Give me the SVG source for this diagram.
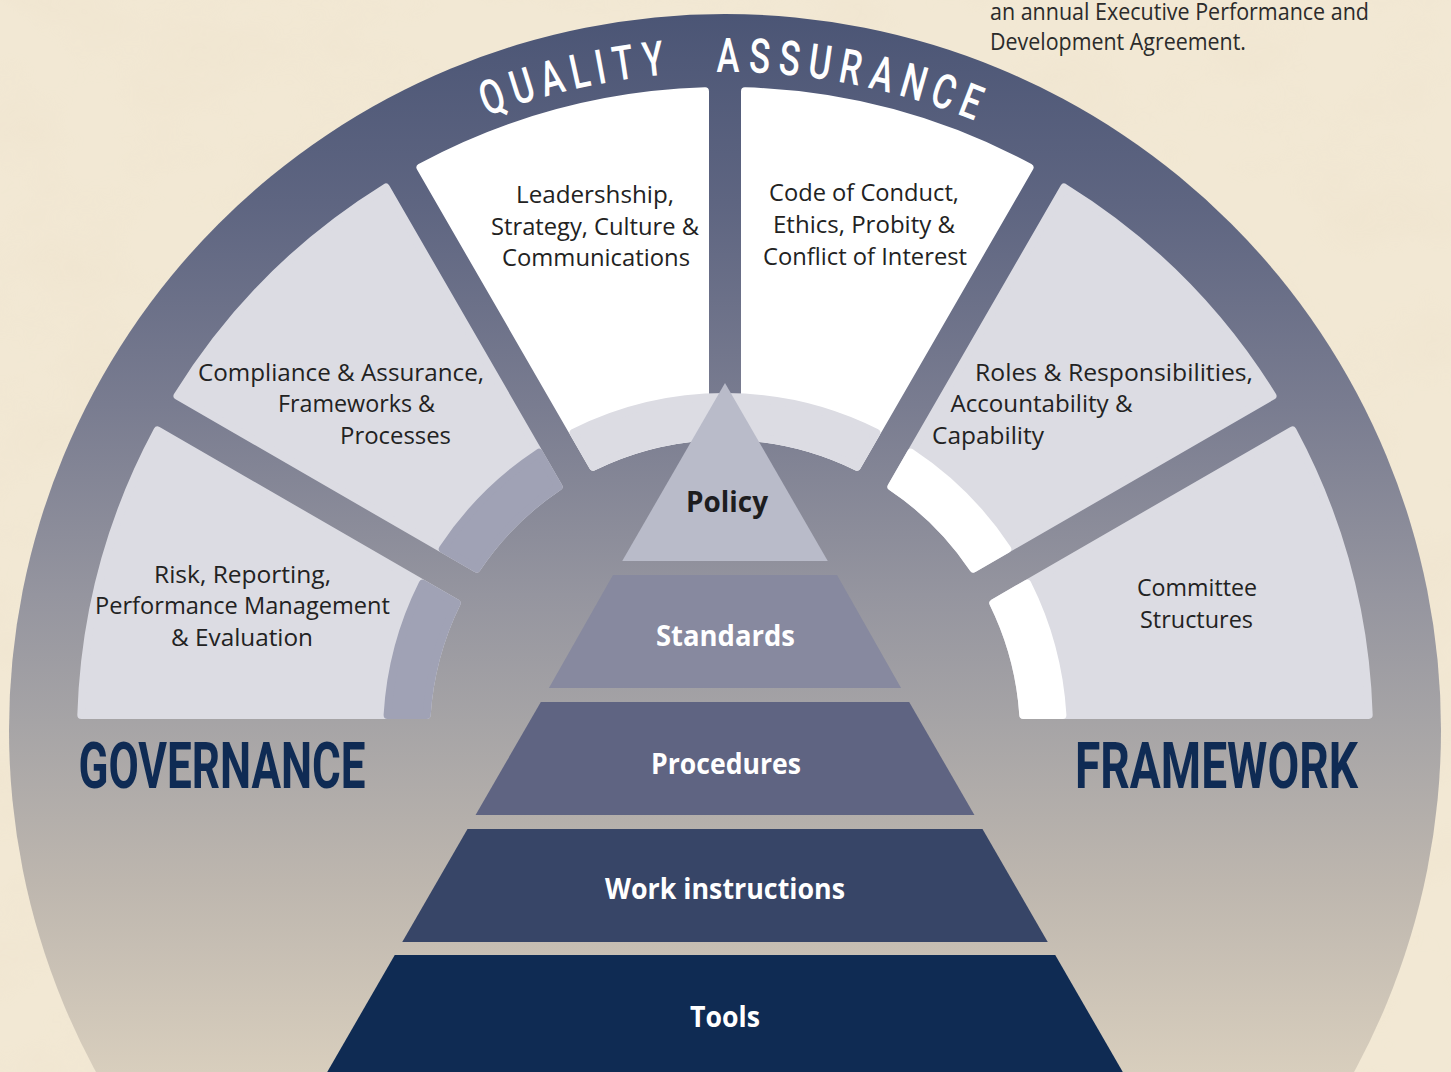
<svg xmlns="http://www.w3.org/2000/svg" width="1451" height="1072" viewBox="0 0 1451 1072">
  <defs>
    <!-- vertical shading of the dial: slate blue at the top fading to warm grey -->
    <linearGradient id="dial" gradientUnits="userSpaceOnUse" x1="0" y1="12" x2="0" y2="1072">
      <stop offset="0" stop-color="#4b5575"/>
      <stop offset="0.18" stop-color="#5e6581"/>
      <stop offset="0.37" stop-color="#797c90"/>
      <stop offset="0.55" stop-color="#95959f"/>
      <stop offset="0.67" stop-color="#a6a4a6"/>
      <stop offset="0.82" stop-color="#bdb6ae"/>
      <stop offset="1" stop-color="#d8cebd"/>
    </linearGradient>
    <!-- one 30-degree sector, bisector along +x, inset 4px for the rounded stroke -->
    <path id="wedge" d="M 626.93,-147.28 A 644 644 0 0 1 626.93,147.28 L 293.34,57.90 A 299 299 0 0 0 293.34,-57.90 Z"/>
    <!-- inner band of one sector -->
    <path id="band" d="M 331.09,-68.01 A 338 338 0 0 1 331.09,68.01 L 293.34,57.90 A 299 299 0 0 0 293.34,-57.90 Z"/>
    <!-- inner band spanning the two top sectors -->
    <path id="band-wide" d="M 302.20,-151.38 A 338 338 0 0 1 302.20,151.38 L 268.36,131.84 A 299 299 0 0 0 268.36,-131.84 Z"/>
    <filter id="paper" x="0" y="0" width="100%" height="100%">
      <feTurbulence type="fractalNoise" baseFrequency="0.008 0.012" numOctaves="4" seed="7" result="n"/>
      <feColorMatrix in="n" type="matrix" values="0 0 0 0 0.82  0 0 0 0 0.72  0 0 0 0 0.55  0 0 0 1.3 -0.5"/>
    </filter>
  </defs>
  <style>
    .seg{stroke-width:8;stroke-linejoin:round}
    .pale{fill:#dcdce3;stroke:#dcdce3}
    .white{fill:#ffffff;stroke:#ffffff}
    .lilac{fill:#a0a2b5;stroke:#a0a2b5}
    .lbl{font-family:"Open Sans","Noto Sans","DejaVu Sans",sans-serif;font-size:23.5px;fill:#222222;lengthAdjust:spacingAndGlyphs}
    .lvl{font-family:"Open Sans","Noto Sans","DejaVu Sans",sans-serif;font-size:29px;font-weight:700;fill:#ffffff}
    .big{font-family:Roboto,"Liberation Sans",sans-serif;font-size:64px;font-weight:700;fill:#0f2b54}
    .qa{font-family:Roboto,"Liberation Sans",sans-serif;font-size:48px;font-weight:500;fill:#ffffff;text-anchor:middle}
  </style>

  <!-- parchment background -->
  <rect x="0" y="0" width="1451" height="1072" fill="#f2e8d4"/>
  <rect x="0" y="0" width="1451" height="1072" filter="url(#paper)" opacity="0.3"/>

  <!-- dial disc (its colour also shows through the spokes) -->
  <g id="dial-disc">
    <circle cx="725" cy="730" r="716" fill="url(#dial)"/>
  </g>

  <!-- ring lettering -->
  <g id="ring-title">
    <text class="qa" transform="rotate(-20.04 725 735) translate(725 72) scale(0.72 1)">Q</text>
    <text class="qa" transform="rotate(-17.37 725 735) translate(725 72) scale(0.72 1)">U</text>
    <text class="qa" transform="rotate(-14.78 725 735) translate(725 72) scale(0.72 1)">A</text>
    <text class="qa" transform="rotate(-12.36 725 735) translate(725 72) scale(0.72 1)">L</text>
    <text class="qa" transform="rotate(-10.58 725 735) translate(725 72) scale(0.72 1)">I</text>
    <text class="qa" transform="rotate(-8.62 725 735) translate(725 72) scale(0.72 1)">T</text>
    <text class="qa" transform="rotate(-6.08 725 735) translate(725 72) scale(0.72 1)">Y</text>
    <text class="qa" transform="rotate(0.25 725 735) translate(725 72) scale(0.72 1)">A</text>
    <text class="qa" transform="rotate(2.93 725 735) translate(725 72) scale(0.72 1)">S</text>
    <text class="qa" transform="rotate(5.47 725 735) translate(725 72) scale(0.72 1)">S</text>
    <text class="qa" transform="rotate(8.06 725 735) translate(725 72) scale(0.72 1)">U</text>
    <text class="qa" transform="rotate(10.69 725 735) translate(725 72) scale(0.72 1)">R</text>
    <text class="qa" transform="rotate(13.41 725 735) translate(725 72) scale(0.72 1)">A</text>
    <text class="qa" transform="rotate(16.17 725 735) translate(725 72) scale(0.72 1)">N</text>
    <text class="qa" transform="rotate(18.80 725 735) translate(725 72) scale(0.72 1)">C</text>
    <text class="qa" transform="rotate(21.26 725 735) translate(725 72) scale(0.72 1)">E</text>
  </g>

  <!-- sectors -->
  <g id="sector-risk">
    <use href="#wedge" class="seg pale" transform="translate(725 735) rotate(-165)"/>
    <use href="#band" class="seg lilac" transform="translate(725 735) rotate(-165)"/>
    <text class="lbl" x="154" y="582.5" textLength="177" lengthAdjust="spacingAndGlyphs">Risk, Reporting,</text>
    <text class="lbl" x="95" y="614" textLength="295" lengthAdjust="spacingAndGlyphs">Performance Management</text>
    <text class="lbl" x="171" y="646" textLength="142" lengthAdjust="spacingAndGlyphs">&amp; Evaluation</text>
  </g>
  <g id="sector-compliance">
    <use href="#wedge" class="seg pale" transform="translate(725 735) rotate(-135)"/>
    <use href="#band" class="seg lilac" transform="translate(725 735) rotate(-135)"/>
    <text class="lbl" x="198" y="380.5" textLength="286" lengthAdjust="spacingAndGlyphs">Compliance &amp; Assurance,</text>
    <text class="lbl" x="278" y="412" textLength="157" lengthAdjust="spacingAndGlyphs">Frameworks &amp;</text>
    <text class="lbl" x="340" y="444" textLength="111" lengthAdjust="spacingAndGlyphs">Processes</text>
  </g>
  <g id="sector-leadership">
    <use href="#wedge" class="seg white" transform="translate(725 735) rotate(-105)"/>
    <text class="lbl" x="516" y="203" textLength="158" lengthAdjust="spacingAndGlyphs">Leadershship,</text>
    <text class="lbl" x="491" y="234.5" textLength="208" lengthAdjust="spacingAndGlyphs">Strategy, Culture &amp;</text>
    <text class="lbl" x="502" y="266" textLength="188" lengthAdjust="spacingAndGlyphs">Communications</text>
  </g>
  <g id="sector-conduct">
    <use href="#wedge" class="seg white" transform="translate(725 735) rotate(-75)"/>
    <text class="lbl" x="769" y="201" textLength="190" lengthAdjust="spacingAndGlyphs">Code of Conduct,</text>
    <text class="lbl" x="773" y="233" textLength="182" lengthAdjust="spacingAndGlyphs">Ethics, Probity &amp;</text>
    <text class="lbl" x="763" y="265" textLength="204" lengthAdjust="spacingAndGlyphs">Conflict of Interest</text>
  </g>
  <g id="top-band">
    <use href="#band-wide" class="seg pale" transform="translate(725 735) rotate(-90)"/>
  </g>
  <g id="sector-roles">
    <use href="#wedge" class="seg pale" transform="translate(725 735) rotate(-45)"/>
    <use href="#band" class="seg white" transform="translate(725 735) rotate(-45)"/>
    <text class="lbl" x="975" y="380.5" textLength="278" lengthAdjust="spacingAndGlyphs">Roles &amp; Responsibilities,</text>
    <text class="lbl" x="950.5" y="412" textLength="182" lengthAdjust="spacingAndGlyphs">Accountability &amp;</text>
    <text class="lbl" x="932" y="444" textLength="112" lengthAdjust="spacingAndGlyphs">Capability</text>
  </g>
  <g id="sector-committee">
    <use href="#wedge" class="seg pale" transform="translate(725 735) rotate(-15)"/>
    <use href="#band" class="seg white" transform="translate(725 735) rotate(-15)"/>
    <text class="lbl" x="1137" y="596" textLength="120" lengthAdjust="spacingAndGlyphs">Committee</text>
    <text class="lbl" x="1140" y="628" textLength="113" lengthAdjust="spacingAndGlyphs">Structures</text>
  </g>

  <!-- document hierarchy pyramid -->
  <g id="level-policy">
    <polygon points="725,383 827.77,561 622.23,561" fill="#b9bbc9"/>
    <text class="lvl" x="686" y="512" textLength="82" lengthAdjust="spacingAndGlyphs" style="fill:#1d1d1f">Policy</text>
  </g>
  <g id="level-standards">
    <polygon points="612.99,575 837.01,575 901.09,688 548.91,688" fill="#87899f"/>
    <text class="lvl" x="656" y="646" textLength="139" lengthAdjust="spacingAndGlyphs">Standards</text>
  </g>
  <g id="level-procedures">
    <polygon points="540.82,702 909.18,702 974.42,815 475.58,815" fill="#5f6482"/>
    <text class="lvl" x="651" y="773.5" textLength="150" lengthAdjust="spacingAndGlyphs">Procedures</text>
  </g>
  <g id="level-work-instructions">
    <polygon points="467.50,829 982.50,829 1047.74,942 402.26,942" fill="#374567"/>
    <text class="lvl" x="605" y="899" textLength="240" lengthAdjust="spacingAndGlyphs">Work instructions</text>
  </g>
  <g id="level-tools">
    <polygon points="394.76,955 1055.24,955 1127.4,1080 322.6,1080" fill="#0f2b53"/>
    <text class="lvl" x="690" y="1027" textLength="70" lengthAdjust="spacingAndGlyphs">Tools</text>
  </g>

  <!-- side headings -->
  <g id="headings">
    <text class="big" x="78.5" y="788" textLength="287" lengthAdjust="spacingAndGlyphs">GOVERNANCE</text>
    <text class="big" x="1075" y="788" textLength="283" lengthAdjust="spacingAndGlyphs">FRAMEWORK</text>
  </g>

  <!-- running text at the top right -->
  <g id="caption">
    <text class="lbl" x="990" y="19.5" textLength="379" lengthAdjust="spacingAndGlyphs" style="fill:#2b2b2b">an annual Executive Performance and</text>
    <text class="lbl" x="990" y="50" textLength="256" lengthAdjust="spacingAndGlyphs" style="fill:#2b2b2b">Development Agreement.</text>
  </g>

  <g id="connectors"/>
</svg>
